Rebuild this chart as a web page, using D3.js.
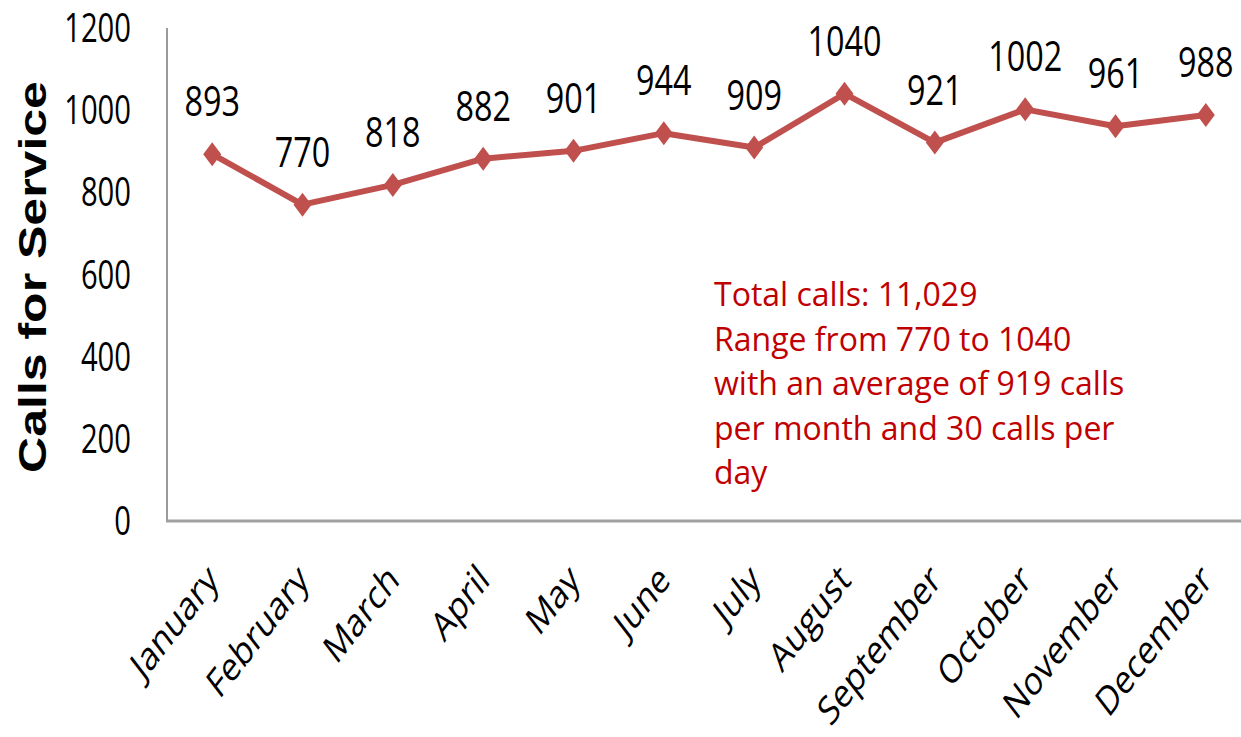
<!DOCTYPE html>
<html lang="en">
<head>
  <meta charset="utf-8">
  <title>Calls for Service</title>
  <script src="https://d3js.org/d3.v7.min.js"></script>
  <style>
    body { margin: 0; background: #fff; }
    svg { display: block; }
  </style>
</head>
<body>
<svg width="1241" height="737"></svg>
<script>
// chart data
var months = ["January", "February", "March", "April", "May", "June",
              "July", "August", "September", "October", "November", "December"];
var calls = [893, 770, 818, 882, 901, 944, 909, 1040, 921, 1002, 961, 988];
var yTicks = [0, 200, 400, 600, 800, 1000, 1200];
var notes = ["Total calls: 11,029",
             "Range from 770 to 1040",
             "with an average of 919 calls",
             "per month and 30 calls per",
             "day"];

var svg = d3.select("svg"),
    width = +svg.attr("width"),
    height = +svg.attr("height");

// the source picture is squeezed horizontally, so text gets scaleX too
var squeeze = 0.77;

var x = d3.scalePoint()
    .domain(months)
    .range([167, 1251])
    .padding(0.5);

var y = d3.scaleLinear()
    .domain([0, 1200])
    .range([521, 28]);

// axis lines
svg.append("line")
    .attr("x1", 167).attr("x2", 167)
    .attr("y1", y(1200)).attr("y2", y(0))
    .attr("stroke", "#9a9a9a").attr("stroke-width", 2);

svg.append("line")
    .attr("x1", 166).attr("x2", width)
    .attr("y1", y(0)).attr("y2", y(0))
    .attr("stroke", "#a0a0a0").attr("stroke-width", 3);

// y tick labels
svg.append("g").selectAll("text")
    .data(yTicks)
  .enter().append("text")
    .attr("transform", function(d) { return "translate(131," + (y(d) + 14) + ") scale(0.73,1)"; })
    .attr("text-anchor", "end")
    .style("font-family", "'Open Sans', sans-serif")
    .style("font-size", "40px")
    .style("fill", "#000")
    .text(function(d) { return d; });

// y title
svg.append("text")
    .attr("transform", "translate(46,277) rotate(-90) scale(1," + squeeze + ")")
    .attr("text-anchor", "middle")
    .style("font-family", "'Liberation Sans', Arial, sans-serif")
    .style("font-weight", "bold")
    .style("font-size", "50px")
    .style("fill", "#000")
    .text("Calls for Service");

// month labels
svg.append("g").selectAll("text")
    .data(months)
  .enter().append("text")
    .attr("transform", function(d) { return "translate(" + (x(d) + 8) + ",582) scale(" + squeeze + ",1) rotate(-45)"; })
    .attr("text-anchor", "end")
    .style("font-family", "'Open Sans', sans-serif")
    .style("font-size", "40px")
    .style("fill", "#000")
    .text(function(d) { return d; });

// line
var line = d3.line()
    .x(function(d, i) { return x(months[i]); })
    .y(function(d) { return y(d); });

svg.append("path")
    .datum(calls)
    .attr("d", line)
    .attr("fill", "none")
    .attr("stroke", "#C0504D")
    .attr("stroke-width", 6)
    .attr("stroke-linejoin", "round");

// diamond markers
svg.append("g").selectAll("path")
    .data(calls)
  .enter().append("path")
    .attr("transform", function(d, i) { return "translate(" + x(months[i]) + "," + y(d) + ")"; })
    .attr("d", "M0,-12L9,0L0,12L-9,0Z")
    .attr("fill", "#C0504D");

// data labels
svg.append("g").selectAll("text")
    .data(calls)
  .enter().append("text")
    .attr("transform", function(d, i) { return "translate(" + x(months[i]) + "," + (y(d) - 38) + ") scale(" + squeeze + ",1)"; })
    .attr("text-anchor", "middle")
    .style("font-family", "'Open Sans', sans-serif")
    .style("font-size", "42px")
    .style("fill", "#000")
    .text(function(d) { return d; });

// annotation
svg.append("g").selectAll("text")
    .data(notes)
  .enter().append("text")
    .attr("x", 714)
    .attr("y", function(d, i) { return 306 + i * 44.5; })
    .style("font-family", "'Open Sans', sans-serif")
    .style("font-size", "32px")
    .style("fill", "#C00000")
    .text(function(d) { return d; });
</script>
</body>
</html>
